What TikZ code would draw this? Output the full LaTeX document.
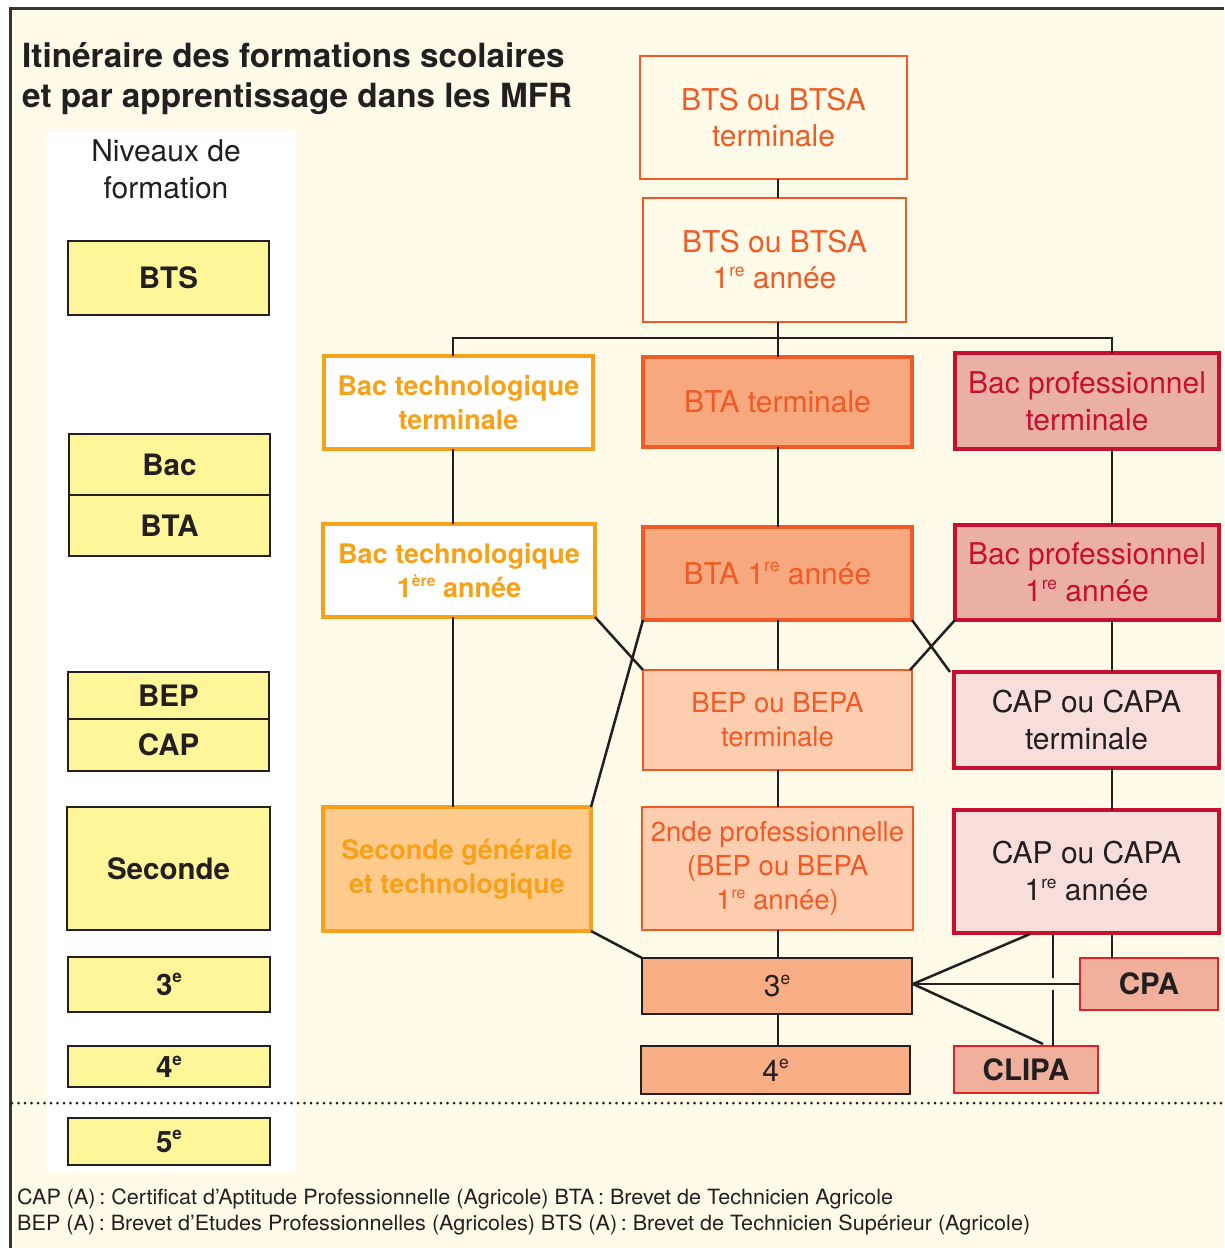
\documentclass[tikz,border=0pt]{standalone}
\usepackage{fontspec}
\setmainfont{TeX Gyre Heros}
\usepackage{graphicx}
\usetikzlibrary{calc}
\definecolor{bg}{HTML}{FFFBE8}
\definecolor{dark}{HTML}{231F20}
\definecolor{yel}{HTML}{FFF599}
\definecolor{ora}{HTML}{F7A11A}
\definecolor{orafill}{HTML}{FECB8C}
\definecolor{red1}{HTML}{F15A24}
\definecolor{btafill}{HTML}{F7A87F}
\definecolor{bepfill}{HTML}{FDCDB0}
\definecolor{crim}{HTML}{C8102E}
\definecolor{bpfill}{HTML}{EAB0A6}
\definecolor{capfill}{HTML}{F8DEDA}
\definecolor{cpared}{HTML}{E2202A}
\definecolor{cpafill}{HTML}{F0B09C}
\definecolor{tfill}{HTML}{F7AE85}
\newcommand{\sups}[1]{\raisebox{0.42em}{\scalebox{0.58}{#1}}}
\begin{document}
\begin{tikzpicture}[x=1pt,y=-1pt,
  bx/.style 2 args={rectangle, inner sep=0pt, outer sep=0pt, align=center, minimum width=#1, minimum height=#2},
  lvl/.style={draw=dark, line width=2.5, fill=yel, text=dark, font=\bfseries\fontsize{29.5}{34}\selectfont},
  btsbox/.style={draw=red1, line width=2.5, fill=bg, text=red1, font=\fontsize{30}{36}\selectfont},
  techbox/.style={draw=ora, line width=4.5, fill=white, text=ora, font=\bfseries\fontsize{27}{34}\selectfont},
  secbox/.style={draw=ora, line width=4.5, fill=orafill, text=ora, font=\bfseries\fontsize{27}{34}\selectfont},
  btabox/.style={draw=red1, line width=4.5, fill=btafill, text=red1, font=\fontsize{30}{36}\selectfont},
  bepbox/.style={draw=red1, line width=2.5, fill=bepfill, text=red1, font=\fontsize{27.5}{34}\selectfont},
  bpbox/.style={draw=crim, line width=4.5, fill=bpfill, text=crim, font=\fontsize{30}{37}\selectfont},
  capbox/.style={draw=crim, line width=4.5, fill=capfill, text=dark, font=\fontsize{30}{37}\selectfont},
  classbox/.style={draw=dark, line width=2.5, fill=tfill, text=dark, font=\fontsize{30}{36}\selectfont},
  cpabox/.style={draw=cpared, line width=2.5, fill=cpafill, text=dark, font=\bfseries\fontsize{29.5}{34}\selectfont},
  conn/.style={draw=dark, line width=2.5},
  legend/.style={anchor=base west, inner sep=0pt, text=dark, font=\fontsize{21}{26}\selectfont}
]
\useasboundingbox (0,0) rectangle (1224,1248);
\fill[white] (0,0) rectangle (1224,1248);
\fill[bg] (10,8) rectangle (1224,1248);
\draw[dark!90, line width=3] (1224,8) -- (10,8) -- (10,1248);
\fill[white] (47,130) rectangle (296,1172);

% title
\node[anchor=base west, inner sep=0pt, text=dark, font=\bfseries\fontsize{33.3}{40}\selectfont] (title1) at (22,67) {Itinéraire des formations scolaires};
\node[anchor=base west, inner sep=0pt, text=dark, font=\bfseries\fontsize{33.3}{40}\selectfont] (title2) at (22,107) {et par apprentissage dans les MFR};

% levels column
\node[align=center, inner sep=0pt, text=dark, font=\fontsize{30}{37}\selectfont] (niv) at (166,169) {Niveaux de\\formation};
\node[lvl, bx={201}{74}] (lBTS) at (168.5,278) {BTS};
\node[lvl, bx={201}{61}] (lBac) at (169.5,464.5) {Bac};
\node[lvl, bx={201}{61}] (lBTA) at (169.5,525.5) {BTA};
\node[lvl, bx={201}{47}] (lBEP) at (168.5,695.5) {BEP};
\node[lvl, bx={201}{52}] (lCAP) at (168.5,745) {CAP};
\node[lvl, bx={203}{123}] (lSec) at (168.5,868.5) {Seconde};
\node[lvl, bx={202}{55}] (l3) at (169,984.5) {3\sups{e}};
\node[lvl, bx={202}{41}] (l4) at (169,1066.5) {4\sups{e}};
\node[lvl, bx={202}{47}] (l5) at (169,1141.5) {5\sups{e}};

% main boxes
\node[btsbox, bx={267}{123}] (bts2) at (773.5,117.5) {BTS ou BTSA\\terminale};
\node[btsbox, bx={263}{124}] (bts1) at (774.5,260) {BTS ou BTSA\\1\sups{re} année};
\node[techbox, bx={269}{93}] (btt) at (458.5,402.5) {Bac technologique\\terminale};
\node[btabox, bx={269}{90}] (btat) at (777.5,402) {BTA terminale};
\node[bpbox, bx={264}{96}] (bpt) at (1087,401) {Bac professionnel\\terminale};
\node[techbox, bx={272}{93}] (bt1) at (459,570.5) {Bac technologique\\1\sups{ère} année};
\node[btabox, bx={269}{93}] (bta1) at (777.5,573.5) {BTA 1\sups{re} année};
\node[bpbox, bx={264}{95}] (bp1) at (1087,572.5) {Bac professionnel\\1\sups{re} année};
\node[bepbox, bx={269}{100}] (bept) at (777.5,720) {BEP ou BEPA\\terminale};
\node[capbox, bx={265}{96}] (capt) at (1086.5,720) {CAP ou CAPA\\terminale};
\node[secbox, bx={268}{124}] (sec) at (457,869) {Seconde générale\\et technologique};
\node[bepbox, bx={271}{123}] (secpro) at (777.5,868.5) {2nde professionnelle\\(BEP ou BEPA\\1\sups{re} année)};
\node[capbox, bx={265}{123}] (cap1) at (1086.5,871.5) {CAP ou CAPA\\1\sups{re} année};
\node[classbox, bx={270}{56}] (t3) at (777,986) {3\sups{e}};
\node[classbox, bx={269}{48}] (t4) at (775.5,1070) {4\sups{e}};
\node[cpabox, bx={138}{52}] (cpa) at (1149,984) {CPA};
\node[cpabox, bx={144}{47}] (clipa) at (1026,1069.5) {CLIPA};

% helper coordinates
\coordinate (vx) at (778,0);
\coordinate (barL) at (453,338);
\coordinate (barR) at (1112,338);
\coordinate (vc) at (1053,0);
\coordinate (hub) at (913,984);
\coordinate (capfoot) at (1030,934);
\coordinate (clipatop) at (1043,1044);
\coordinate (gapA) at (0,978);
\coordinate (gapB) at (0,990);

% connectors
\draw[conn] (bts2.south -| vx) -- (bts1.north -| vx);
\draw[conn] (bts1.south -| vx) -- (barL -| vx);
\draw[conn] (btt.north -| barL) -- (barL) -- (barR) -- (bpt.north -| barR);
\draw[conn] (barL -| vx) -- (btat.north -| vx);
\draw[conn] (btt.south -| barL) -- (bt1.north -| barL);
\draw[conn] (bt1.south -| barL) -- (sec.north -| barL);
\draw[conn] (btat.south -| vx) -- (bta1.north -| vx);
\draw[conn] (bta1.south -| vx) -- (bept.north -| vx);
\draw[conn] (bept.south -| vx) -- (secpro.north -| vx);
\draw[conn] (secpro.south -| vx) -- (t3.north -| vx);
\draw[conn] (t3.south -| vx) -- (t4.north -| vx);
\draw[conn] (bpt.south -| barR) -- (bp1.north -| barR);
\draw[conn] (bp1.south -| barR) -- (capt.north -| barR);
\draw[conn] (capt.south -| barR) -- (cap1.north -| barR);
\draw[conn] (cap1.south -| barR) -- (cpa.north -| barR);
\draw[conn] (bt1.south east) -- (bept.north west);
\draw[conn] (bta1.south west) -- (sec.north east);
\draw[conn] (bta1.south east) -- ($(capt.north west)+(-4,0)$);
\draw[conn] (bp1.south west) -- ($(bept.north east)+(-2,0)$);
\draw[conn] (sec.south east) -- (t3.north west);
\draw[conn] (hub) -- (capfoot);
\draw[conn] (hub) -- (cpa.west);
\draw[conn] (hub) -- (clipatop);
\draw[conn] (cap1.south -| vc) -- (gapA -| vc);
\draw[conn] (gapB -| vc) -- (clipa.north -| vc);

% dotted separator
\draw[dark, line width=3, dash pattern=on 0pt off 6.5pt, line cap=round] (12,1103) -- (1224,1103);

% legend
\node[legend] (leg1) at (17,1204) {\resizebox{876pt}{\height}{CAP (A)\,: Certificat d’Aptitude Professionnelle (Agricole) BTA\,: Brevet de Technicien Agricole}};
\node[legend] (leg2) at (17,1230) {\resizebox{1013pt}{\height}{BEP (A)\,: Brevet d’Etudes Professionnelles (Agricoles) BTS (A)\,: Brevet de Technicien Supérieur (Agricole)}};
\end{tikzpicture}
\end{document}
